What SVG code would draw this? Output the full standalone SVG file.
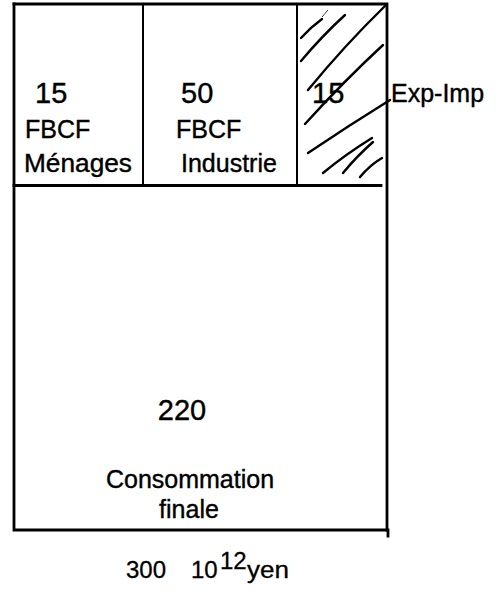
<svg xmlns="http://www.w3.org/2000/svg" width="503" height="594" viewBox="0 0 503 594">
<style>
.ln{stroke:#000;stroke-width:2.8;fill:none;stroke-linecap:square}
.dv{stroke:#000;stroke-width:2;fill:none}
.h{stroke:#000;stroke-width:2.4;fill:none;stroke-linecap:round}
.num{font-family:"Liberation Sans",Arial,sans-serif;font-size:29px;fill:#000;stroke:#000;stroke-width:0.4}
.lbl{font-family:"Liberation Sans",Arial,sans-serif;font-size:25px;fill:#000;stroke:#000;stroke-width:0.4}
.tot{font-family:"Liberation Sans",Arial,sans-serif;font-size:24px;fill:#000;stroke:#000;stroke-width:0.3}
</style>
<rect width="503" height="594" fill="#fff"/>
<g id="frame">
<path class="ln" d="M14 4 H387 V530"/>
<path class="ln" d="M14 4 V530 H388 V536"/>
<path class="ln" d="M14 185.5 H381"/>
</g>
<g id="cell-menages">
<path class="dv" d="M143 4 V185"/>
<text class="num" x="35" y="103">15</text>
<text class="lbl" x="25" y="138">FBCF</text>
<text class="lbl" x="24" y="172" textLength="108" lengthAdjust="spacingAndGlyphs">Ménages</text>
</g>
<g id="cell-industrie">
<path class="dv" d="M297 4 V185"/>
<text class="num" x="181" y="103">50</text>
<text class="lbl" x="176" y="138">FBCF</text>
<text class="lbl" x="181" y="172">Industrie</text>
</g>
<g id="cell-exp-imp">
<path class="h" d="M301 38 Q311 27 322 19"/>
<path class="h" d="M301 61 Q322 36 345 15"/>
<path class="h" d="M308 90 Q345 45 385 6"/>
<path class="h" d="M305 124 Q343 82 383 45"/>
<path class="h" d="M308 153 Q348 126 390 100"/>
<path class="h" d="M323 173 Q346 154 372 138"/>
<path class="h" d="M343 173 Q357 156 373 142"/>
<path class="h" d="M360 177 Q370 165 382 158"/>
<path stroke="#000" stroke-width="0.8" fill="none" d="M322 17 L328 10"/>
<text class="num" x="312" y="103">15</text>
<text class="lbl" x="391" y="102">Exp-Imp</text>
</g>
<g id="cell-consommation">
<text class="num" x="182" y="420" text-anchor="middle">220</text>
<text class="lbl" x="190" y="488" text-anchor="middle">Consommation</text>
<text class="lbl" x="189" y="518" text-anchor="middle">finale</text>
</g>
<g id="total">
<text class="tot" x="126" y="578">300</text>
<text class="tot" x="191" y="578">10</text>
<text class="tot" x="220" y="569" font-size="21">12</text>
<text class="tot" x="247" y="578" textLength="42" lengthAdjust="spacingAndGlyphs">yen</text>
</g>
</svg>
